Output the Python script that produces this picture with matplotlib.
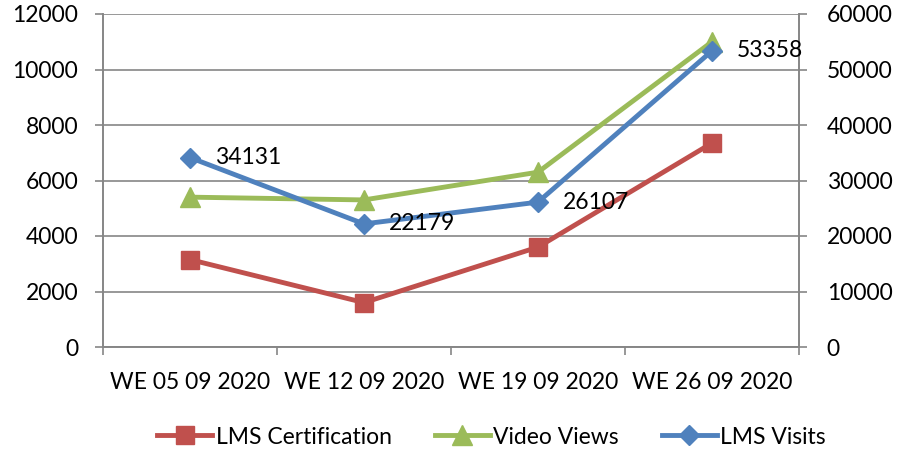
import matplotlib
matplotlib.use("Agg")
import matplotlib.pyplot as plt
from matplotlib.ticker import MultipleLocator, FixedLocator

plt.rcParams['font.family'] = ['Lato', 'DejaVu Sans']

categories = ["WE 05 09 2020", "WE 12 09 2020", "WE 19 09 2020", "WE 26 09 2020"]
lms_certification = [3150, 1600, 3600, 7350]
video_views = [5400, 5300, 6300, 11000]
lms_visits = [34131, 22179, 26107, 53358]

red = "#C0504D"
green = "#9BBB59"
blue = "#4F81BD"
gray = "#868686"
fs = 16.5

fig = plt.figure(figsize=(8.97, 4.5), dpi=100)
ax = fig.add_axes([103/897, 1-347/450, (799-103)/897, (347-14)/450])
ax2 = ax.twinx()

x = list(range(len(categories)))
l1, = ax.plot(x, lms_certification, color=red, lw=3.5, marker='s', ms=13, label="LMS Certification")
l2, = ax.plot(x, video_views, color=green, lw=3.5, marker='^', ms=14, label="Video Views")
l3, = ax2.plot(x, lms_visits, color=blue, lw=3.5, marker='D', ms=10, label="LMS Visits")

for xi, v in zip(x, lms_visits):
    ax2.annotate(str(v), (xi, v), xytext=(18, 0), textcoords='offset points',
                 va='center', ha='left', fontsize=fs, color='black')

ax.set_xlim(-0.5, len(categories) - 0.5)
ax.set_ylim(0, 12000)
ax2.set_ylim(0, 60000)
ax.yaxis.set_major_locator(MultipleLocator(2000))
ax2.yaxis.set_major_locator(MultipleLocator(10000))
ax.set_xticks(x)
ax.set_xticklabels(categories, fontsize=fs)
ax.xaxis.set_minor_locator(FixedLocator([i - 0.5 for i in range(len(categories) + 1)]))
ax.tick_params(axis='x', which='major', length=0, pad=18)
ax.tick_params(axis='x', which='minor', length=6, color=gray, width=1.2)
ax.tick_params(axis='y', length=6, color=gray, width=1.2, labelsize=fs, pad=12)
ax2.tick_params(axis='y', length=6, color=gray, width=1.2, labelsize=fs, pad=14)

ax.grid(axis='y', color=gray, lw=1.2)
ax.set_axisbelow(True)
for a in (ax, ax2):
    a.spines['top'].set_visible(False)
    for s in ('left', 'right', 'bottom'):
        a.spines[s].set_color(gray)
        a.spines[s].set_linewidth(1.2)

ax2.set_zorder(ax.get_zorder() + 1)
ax2.patch.set_visible(False)

fig.legend(handles=[l1, l2, l3], loc='center', bbox_to_anchor=(0.548, 1 - 437/450),
           ncol=3, frameon=False, fontsize=fs, handlelength=2.4, columnspacing=1.88,
           handletextpad=0.15)

fig.savefig("out.png", dpi=100)
